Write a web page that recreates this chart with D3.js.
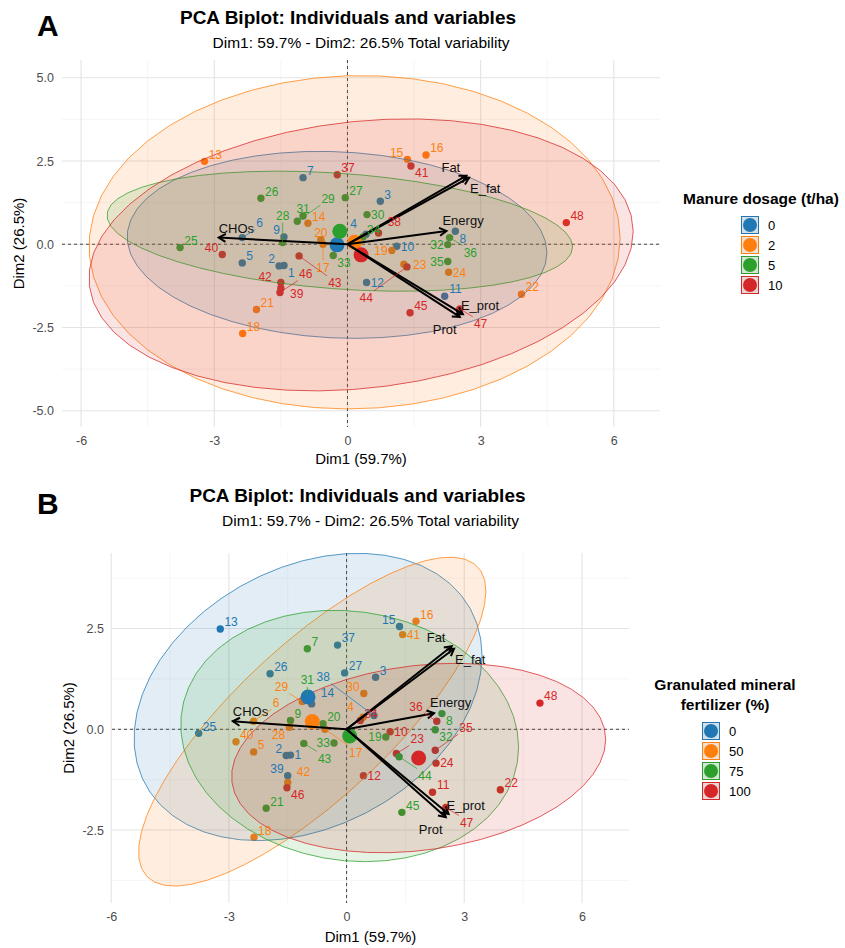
<!DOCTYPE html>
<html>
<head>
<meta charset="utf-8">
<script src="https://cdn.jsdelivr.net/npm/d3@7/dist/d3.min.js"></script>
<style>
  body { margin: 0; background: #fff; }
  svg text { font-family: "Liberation Sans", Arial, sans-serif; }
</style>
</head>
<body>
<svg id="chart" width="845" height="948"></svg>
<script>
// individuals (PCA coordinates)
const sampleIds = ["1","2","3","4","5","6","7","8","9","10","11","12",
  "13","14","15","16","17","18","19","20","21","22","23","24",
  "25","26","27","28","29","30","31","32","33","34","35","36",
  "37","38","39","40","41","42","43","44","45","46","47","48"];
const dim1 = [-1.43, -1.54, 0.74, 0.42, -2.37, -2.37, -1.00, 2.43, -1.43, 1.11, 2.19, 0.43,
  -3.22, -0.89, 1.35, 1.77, -0.55, -2.36, 1.00, -0.60, -2.05, 3.92, 1.27, 2.28,
  -3.77, -1.95, -0.05, -1.46, -1.13, 0.44, -1.00, 2.26, -0.32, 0.35, 2.26, 2.30,
  -0.23, 0.70, -1.50, -2.82, 1.43, -1.50, -1.09, 1.34, 1.41, -1.52, 2.53, 4.93];
const dim2 = [-0.64, -0.65, 1.29, 0.30, -0.56, 0.20, 2.00, 0.39, 0.22, -0.06, -1.56, -1.15,
  2.49, 0.63, 2.55, 2.68, 0.00, -2.68, -0.19, 0.14, -1.96, -1.50, -0.60, -0.84,
  -0.10, 1.38, 1.40, 0.05, 0.69, 0.89, 0.85, -0.01, -0.34, 0.22, -0.52, 0.20,
  2.09, 0.34, -1.15, -0.31, 2.35, -1.32, -0.35, -0.68, -2.06, -1.45, -1.94, 0.65];
const manureDose = [0,0,0,0,0,0,0,0,0,0,0,0, 2,2,2,2,2,2,2,2,2,2,2,2,
  5,5,5,5,5,5,5,5,5,5,5,5, 10,10,10,10,10,10,10,10,10,10,10,10];
const mineralFert = [0,0,0,50,50,50,75,75,75,100,100,100, 0,0,0,50,50,50,75,75,75,100,100,100,
  0,0,0,50,50,50,75,75,75,100,100,100, 0,0,0,50,50,50,75,75,75,100,100,100];
const manureLevels = [0, 2, 5, 10];
const mineralLevels = [0, 50, 75, 100];
const groupColors = ["#1f77b4", "#ff7f0e", "#2ca02c", "#d62728"];

// variables (loadings arrows)
const variables = ["Fat", "E_fat", "Energy", "E_prot", "Prot", "CHOs"];
const varDim1 = [2.68, 2.74, 2.23, 2.60, 2.53, -2.90];
const varDim2 = [2.06, 2.00, 0.40, -2.10, -2.18, 0.20];

const xTicks = [-6, -3, 0, 3, 6];
const yTicksA = [-5, -2.5, 0, 2.5, 5];
const yTicksB = [-2.5, 0, 2.5];

const svg = d3.select("#chart");

// where the variable names sit relative to the arrow tip
const varLabelShift = {
  Fat: [-25, -4], E_fat: [1, 15], Energy: [-4, -6],
  E_prot: [-2, -4], Prot: [-27, 17], CHOs: [0, -5]
};

const panels = [
  {
    letter: "A", groups: manureDose, levels: manureLevels,
    legendTitle: ["Manure dosage (t/ha)"],
    left: 62, right: 660, top: 60, bottom: 427,
    xDomain: [-6.43, 7.04], yDomain: [-5.49, 5.535], yTicks: yTicksA,
    letterY: 36, titleY: 24, subY: 48, xTitleY: 464, yTitleX: 24,
    legend: { titleX: 683, titleY: 204, anchor: "start", keyX: 741, keyY: 216, labelX: 768 }
  },
  {
    letter: "B", groups: mineralFert, levels: mineralLevels,
    legendTitle: ["Granulated mineral", "fertilizer (%)"],
    left: 112, right: 629, top: 553, bottom: 903,
    xDomain: [-5.98, 7.2], yDomain: [-4.31, 4.375], yTicks: yTicksB,
    letterY: 514, titleY: 502, subY: 526, xTitleY: 942, yTitleX: 74,
    legend: { titleX: 725, titleY: 690, anchor: "middle", keyX: 702, keyY: 722, labelX: 729 }
  }
];

function ellipseOf(xs, ys) {
  const n = xs.length;
  const mx = d3.mean(xs), my = d3.mean(ys);
  let sxx = 0, syy = 0, sxy = 0;
  for (let i = 0; i < n; i++) {
    sxx += (xs[i] - mx) ** 2;
    syy += (ys[i] - my) ** 2;
    sxy += (xs[i] - mx) * (ys[i] - my);
  }
  sxx /= n - 1; syy /= n - 1; sxy /= n - 1;
  const df2 = n - 1;
  const q = (df2 / 2) * (Math.pow(0.05, -2 / df2) - 1); // qf(0.95, 2, n-1)
  const r = Math.sqrt(2 * q);
  const a = Math.sqrt(sxx), b = sxy / a, c = Math.sqrt(syy - b * b);
  return d3.range(51).map((i) => {
    const t = (2 * Math.PI * i) / 51;
    return [mx + r * a * Math.cos(t), my + r * (b * Math.cos(t) + c * Math.sin(t))];
  });
}

function boxesOverlap(a, b) {
  return a.x0 < b.x1 && b.x0 < a.x1 && a.y0 < b.y1 && b.y0 < a.y1;
}
function circleHitsBox(c, b) {
  const dx = Math.max(b.x0 - c.cx, 0, c.cx - b.x1);
  const dy = Math.max(b.y0 - c.cy, 0, c.cy - b.y1);
  return dx * dx + dy * dy < c.r * c.r;
}

function drawPanel(p, idx) {
  const g = svg.append("g");
  const x = d3.scaleLinear().domain(p.xDomain).range([p.left, p.right]);
  const y = d3.scaleLinear().domain(p.yDomain).range([p.bottom, p.top]);

  const minorOf = (ticks, dom) => {
    const s = ticks[1] - ticks[0];
    return d3.range(ticks[0] - s / 2, ticks[ticks.length - 1] + s, s)
      .filter((v) => v > dom[0] && v < dom[1]);
  };

  // grid
  const grid = g.append("g");
  grid.selectAll(".vmin").data(minorOf(xTicks, p.xDomain)).join("line")
    .attr("x1", (d) => x(d)).attr("x2", (d) => x(d)).attr("y1", p.top).attr("y2", p.bottom)
    .attr("stroke", "#f2f2f2").attr("stroke-width", 0.7);
  grid.selectAll(".hmin").data(minorOf(p.yTicks, p.yDomain)).join("line")
    .attr("y1", (d) => y(d)).attr("y2", (d) => y(d)).attr("x1", p.left).attr("x2", p.right)
    .attr("stroke", "#f2f2f2").attr("stroke-width", 0.7);
  grid.selectAll(".vmaj").data(xTicks).join("line")
    .attr("x1", (d) => x(d)).attr("x2", (d) => x(d)).attr("y1", p.top).attr("y2", p.bottom)
    .attr("stroke", "#e4e4e4").attr("stroke-width", 1.1);
  grid.selectAll(".hmaj").data(p.yTicks).join("line")
    .attr("y1", (d) => y(d)).attr("y2", (d) => y(d)).attr("x1", p.left).attr("x2", p.right)
    .attr("stroke", "#e4e4e4").attr("stroke-width", 1.1);

  // axes
  const xAxis = g.append("g").attr("transform", `translate(0,${p.bottom})`)
    .call(d3.axisBottom(x).tickValues(xTicks).tickFormat((d) => String(d)).tickSize(0).tickPadding(9));
  const yAxis = g.append("g").attr("transform", `translate(${p.left},0)`)
    .call(d3.axisLeft(y).tickValues(p.yTicks).tickFormat((d) => d.toFixed(1)).tickSize(0).tickPadding(8));
  [xAxis, yAxis].forEach((ax) => {
    ax.select(".domain").remove();
    ax.selectAll("text").attr("font-size", 12.5).attr("fill", "#4d4d4d");
  });

  // dashed origin lines
  g.append("line").attr("x1", x(0)).attr("x2", x(0)).attr("y1", p.top).attr("y2", p.bottom)
    .attr("stroke", "#444").attr("stroke-width", 1).attr("stroke-dasharray", "3,3");
  g.append("line").attr("y1", y(0)).attr("y2", y(0)).attr("x1", p.left).attr("x2", p.right)
    .attr("stroke", "#444").attr("stroke-width", 1).attr("stroke-dasharray", "3,3");

  const pts = sampleIds.map((id, i) => ({
    id, dx: dim1[i], dy: dim2[i], grp: p.levels.indexOf(p.groups[i])
  }));

  // individuals
  g.append("g").selectAll("circle").data(pts).join("circle")
    .attr("cx", (d) => x(d.dx)).attr("cy", (d) => y(d.dy)).attr("r", 3.7)
    .attr("fill", (d) => groupColors[d.grp]);

  // concentration ellipses and group means
  const clipId = "clip" + idx;
  g.append("clipPath").attr("id", clipId).append("rect")
    .attr("x", p.left).attr("y", p.top).attr("width", p.right - p.left).attr("height", p.bottom - p.top);
  const line = d3.line().x((d) => x(d[0])).y((d) => y(d[1])).curve(d3.curveLinearClosed);
  const groupsData = p.levels.map((lev, k) => {
    const members = pts.filter((d) => d.grp === k);
    return {
      k,
      ring: ellipseOf(members.map((d) => d.dx), members.map((d) => d.dy)),
      mx: d3.mean(members, (d) => d.dx),
      my: d3.mean(members, (d) => d.dy)
    };
  });
  g.append("g").attr("clip-path", `url(#${clipId})`).selectAll("path").data(groupsData).join("path")
    .attr("d", (d) => line(d.ring))
    .attr("fill", (d) => groupColors[d.k]).attr("fill-opacity", 0.13)
    .attr("stroke", (d) => groupColors[d.k]).attr("stroke-width", 0.75);
  g.append("g").selectAll("circle").data(groupsData).join("circle")
    .attr("cx", (d) => x(d.mx)).attr("cy", (d) => y(d.my)).attr("r", 7.5)
    .attr("fill", (d) => groupColors[d.k]);

  // variable arrows
  const origin = [x(0), y(0)];
  const arrows = variables.map((name, i) => ({ name, tx: x(varDim1[i]), ty: y(varDim2[i]) }));
  const ag = g.append("g").attr("stroke", "#000").attr("stroke-width", 2).attr("fill", "none");
  arrows.forEach((a) => {
    ag.append("line").attr("x1", origin[0]).attr("y1", origin[1]).attr("x2", a.tx).attr("y2", a.ty);
    const ang = Math.atan2(a.ty - origin[1], a.tx - origin[0]);
    const hl = 8, spread = Math.PI / 6;
    const p1 = [a.tx - hl * Math.cos(ang - spread), a.ty - hl * Math.sin(ang - spread)];
    const p2 = [a.tx - hl * Math.cos(ang + spread), a.ty - hl * Math.sin(ang + spread)];
    ag.append("path").attr("d", `M${p1}L${a.tx},${a.ty}L${p2}`).attr("stroke-linejoin", "miter");
  });

  // obstacles for the individual labels
  const obstacles = pts.map((d) => ({ cx: x(d.dx), cy: y(d.dy), r: 4.5, id: d.id }))
    .concat(groupsData.map((d) => ({ cx: x(d.mx), cy: y(d.my), r: 9 })));
  arrows.forEach((a) => {
    for (let s = 0.05; s <= 1; s += 0.05) {
      obstacles.push({ cx: origin[0] + (a.tx - origin[0]) * s, cy: origin[1] + (a.ty - origin[1]) * s, r: 2 });
    }
  });
  const boxes = [];

  const vl = g.append("g");
  arrows.forEach((a) => {
    const [sx, sy] = varLabelShift[a.name];
    const t = vl.append("text").attr("x", a.tx + sx).attr("y", a.ty + sy)
      .attr("font-size", 13).attr("fill", "#111").text(a.name);
    const w = t.node().getComputedTextLength();
    boxes.push({ x0: a.tx + sx - 1, x1: a.tx + sx + w + 1, y0: a.ty + sy - 12, y1: a.ty + sy + 4 });
  });

  // individual labels, greedy placement next to the point
  const dirs = [[1, -1], [1, 0], [1, 1], [-1, -1], [-1, 0], [-1, 1], [0, -1], [0, 1]];
  const lg = g.append("g");
  const tryPlace = (px, py, w, h, id, relax) => {
    for (let step = 0; step < 9; step++) {
      for (const [sx, sy] of dirs) {
        const cx = px + sx * (w / 2 + 4 + step * 5);
        const cy = py + sy * (h / 2 + 1 + step * 4);
        const b = { x0: cx - w / 2 - 1, x1: cx + w / 2 + 1, y0: cy - h / 2 - 1, y1: cy + h / 2 + 1 };
        if (b.x0 < p.left || b.x1 > p.right || b.y0 < p.top || b.y1 > p.bottom) continue;
        if (boxes.some((o) => boxesOverlap(o, b))) continue;
        if (!relax && obstacles.some((c) => c.id !== id && circleHitsBox(c, b))) continue;
        return { cx, cy, b, step };
      }
    }
    return null;
  };
  pts.forEach((d) => {
    const px = x(d.dx), py = y(d.dy);
    const w = d.id.length * 6.8, h = 12;
    const best = tryPlace(px, py, w, h, d.id, false) || tryPlace(px, py, w, h, d.id, true);
    boxes.push(best.b);
    if (best.step >= 2) {
      const ex = Math.max(best.b.x0, Math.min(px, best.b.x1));
      const ey = Math.max(best.b.y0, Math.min(py, best.b.y1));
      lg.append("line").attr("x1", px).attr("y1", py).attr("x2", ex).attr("y2", ey)
        .attr("stroke", groupColors[d.grp]).attr("stroke-width", 0.7);
    }
    lg.append("text").attr("x", best.cx).attr("y", best.cy + 4.3)
      .attr("text-anchor", "middle").attr("font-size", 12)
      .attr("fill", groupColors[d.grp]).text(d.id);
  });

  // titles
  const cx = (p.left + p.right) / 2;
  svg.append("text").attr("x", 37).attr("y", p.letterY).attr("font-size", 30)
    .attr("font-weight", "bold").text(p.letter);
  svg.append("text").attr("x", cx - 13).attr("y", p.titleY).attr("text-anchor", "middle")
    .attr("font-size", 19).attr("font-weight", "bold").text("PCA Biplot: Individuals and variables");
  svg.append("text").attr("x", cx).attr("y", p.subY).attr("text-anchor", "middle")
    .attr("font-size", 15.5).text("Dim1: 59.7% - Dim2: 26.5% Total variability");
  svg.append("text").attr("x", cx).attr("y", p.xTitleY).attr("text-anchor", "middle")
    .attr("font-size", 15).text("Dim1 (59.7%)");
  svg.append("text")
    .attr("transform", `translate(${p.yTitleX},${(p.top + p.bottom) / 2}) rotate(-90)`)
    .attr("text-anchor", "middle").attr("font-size", 15).text("Dim2 (26.5%)");

  // legend
  const L = p.legend;
  p.legendTitle.forEach((t, i) => {
    svg.append("text").attr("x", L.titleX).attr("y", L.titleY + i * 20)
      .attr("text-anchor", L.anchor).attr("font-size", 15.5).attr("font-weight", "bold").text(t);
  });
  const keys = svg.append("g").selectAll("g").data(p.levels).join("g")
    .attr("transform", (d, i) => `translate(${L.keyX},${L.keyY + i * 20})`);
  keys.append("rect").attr("width", 18).attr("height", 18).attr("fill", "#ebebeb");
  keys.append("rect").attr("x", 0.5).attr("y", 0.5).attr("width", 17).attr("height", 17)
    .attr("fill", (d, i) => groupColors[i]).attr("fill-opacity", 0.1)
    .attr("stroke", (d, i) => groupColors[i]).attr("stroke-width", 1);
  keys.append("circle").attr("cx", 9).attr("cy", 9).attr("r", 7)
    .attr("fill", (d, i) => groupColors[i]);
  keys.append("text").attr("x", L.labelX - L.keyX).attr("y", 13.5)
    .attr("font-size", 13).text((d) => String(d));
}

panels.forEach(drawPanel);
</script>
</body>
</html>
